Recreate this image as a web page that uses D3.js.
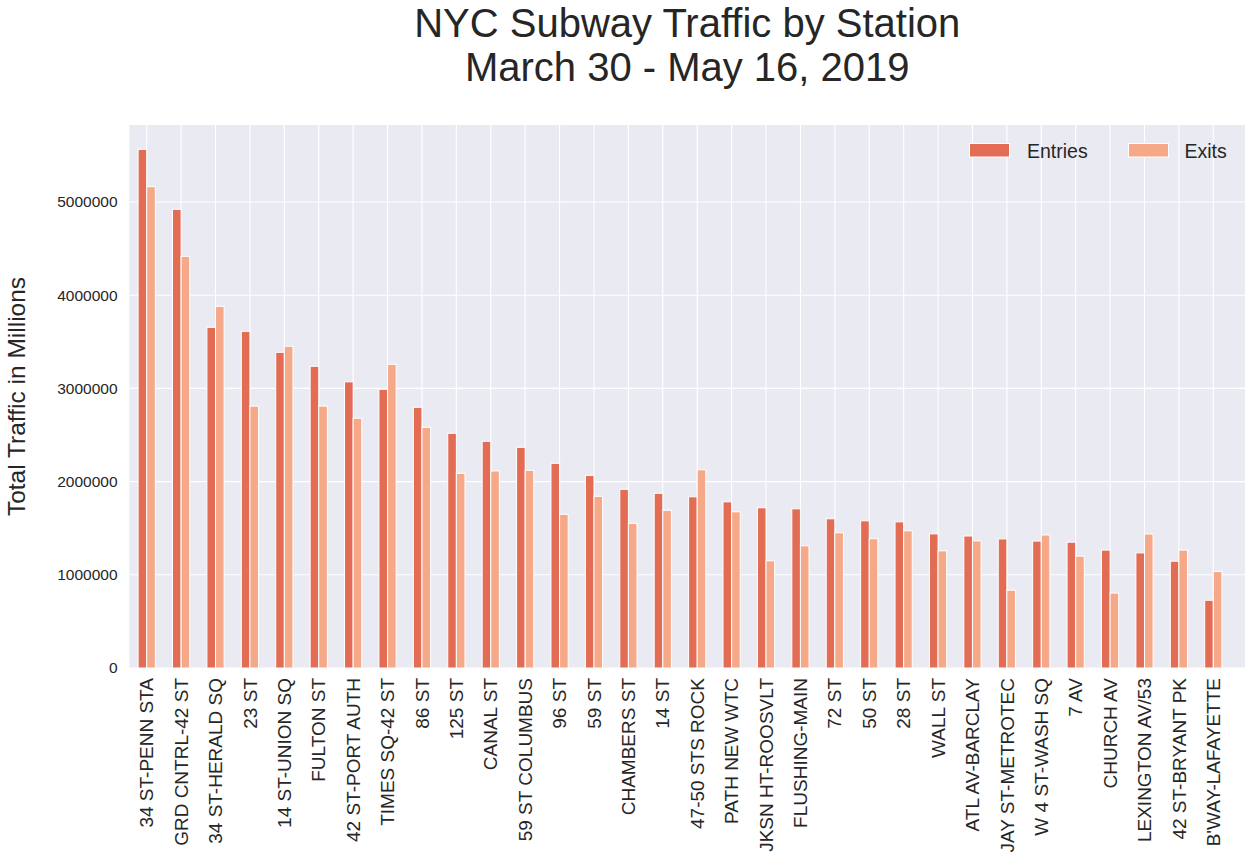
<!DOCTYPE html>
<html>
<head>
<meta charset="utf-8">
<script src="https://cdn.jsdelivr.net/npm/d3@7"></script>
<style>
  html, body { margin: 0; padding: 0; background: #ffffff; }
  svg { display: block; font-family: "Liberation Sans", Arial, sans-serif; }
</style>
</head>
<body>
<svg id="chart" width="1252" height="852"></svg>
<script>
const stations = [
  "34 ST-PENN STA", "GRD CNTRL-42 ST", "34 ST-HERALD SQ", "23 ST", "14 ST-UNION SQ",
  "FULTON ST", "42 ST-PORT AUTH", "TIMES SQ-42 ST", "86 ST", "125 ST", "CANAL ST",
  "59 ST COLUMBUS", "96 ST", "59 ST", "CHAMBERS ST", "14 ST", "47-50 STS ROCK",
  "PATH NEW WTC", "JKSN HT-ROOSVLT", "FLUSHING-MAIN", "72 ST", "50 ST", "28 ST",
  "WALL ST", "ATL AV-BARCLAY", "JAY ST-METROTEC", "W 4 ST-WASH SQ", "7 AV",
  "CHURCH AV", "LEXINGTON AV/53", "42 ST-BRYANT PK", "B'WAY-LAFAYETTE"
];
const entries = [
  5565000, 4921000, 3655000, 3612000, 3387000, 3237000, 3070000, 2990000,
  2797000, 2518000, 2432000, 2368000, 2196000, 2067000, 1917000, 1874000,
  1837000, 1783000, 1719000, 1708000, 1601000, 1579000, 1568000, 1439000,
  1416000, 1385000, 1362000, 1350000, 1265000, 1235000, 1146000, 727000
];
const exits = [
  5164000, 4417000, 3880000, 2810000, 3452000, 2810000, 2680000, 3258000,
  2582000, 2089000, 2114000, 2121000, 1649000, 1842000, 1552000, 1692000,
  2127000, 1676000, 1150000, 1311000, 1451000, 1387000, 1472000, 1257000,
  1364000, 835000, 1427000, 1200000, 804000, 1438000, 1265000, 1035000
];
const yTicks = [0, 1000000, 2000000, 3000000, 4000000, 5000000];
const seriesNames = ["Entries", "Exits"];
const seriesColors = ["#E36C55", "#F6A988"];
const titleLines = ["NYC Subway Traffic by Station", "March 30 - May 16, 2019"];
const yLabel = "Total Traffic in Millions";

const svg = d3.select("#chart");
const plot = { left: 129.5, right: 1245, top: 125, bottom: 668 };
const textColor = "#262626";

const x = d3.scaleBand().domain(stations).range([plot.left, 1230.5]).paddingInner(0).paddingOuter(0);
const y = d3.scaleLinear().domain([0, 5826000]).range([plot.bottom, plot.top]);
const barW = x.bandwidth() * 0.25;
const cx = s => x(s) + x.bandwidth() / 2;

// background
svg.append("rect")
  .attr("x", plot.left).attr("y", plot.top)
  .attr("width", plot.right - plot.left).attr("height", plot.bottom - plot.top)
  .attr("fill", "#EAEAF2");

// grid lines
const grid = svg.append("g");
grid.selectAll("line.h").data(yTicks).join("line")
  .attr("x1", plot.left).attr("x2", plot.right)
  .attr("y1", d => y(d)).attr("y2", d => y(d))
  .attr("stroke", "#ffffff").attr("stroke-width", 1.1);
grid.selectAll("line.v").data(stations).join("line")
  .attr("x1", d => cx(d)).attr("x2", d => cx(d))
  .attr("y1", plot.top).attr("y2", plot.bottom)
  .attr("stroke", "#ffffff").attr("stroke-width", 1.1);

// bars
const data = stations.map((s, i) => ({ s, vals: [entries[i], exits[i]] }));
const barsG = svg.append("g");
seriesNames.forEach((name, k) => {
  barsG.selectAll("rect.s" + k).data(data).join("rect")
    .attr("x", d => cx(d.s) - barW + k * barW)
    .attr("y", d => y(d.vals[k]))
    .attr("width", barW)
    .attr("height", d => y(0) - y(d.vals[k]))
    .attr("fill", seriesColors[k])
    .attr("stroke", "#ffffff")
    .attr("stroke-width", 1);
});

// y axis
const yAxis = d3.axisLeft(y).tickValues(yTicks).tickSize(0).tickPadding(12).tickFormat(d3.format("d"));
const yG = svg.append("g").attr("transform", `translate(${plot.left},0)`).call(yAxis);
yG.select(".domain").remove();
yG.selectAll("text").attr("font-size", 15.5).attr("fill", textColor)
  .attr("font-family", "Liberation Sans, Arial, sans-serif");

// x axis
const xAxis = d3.axisBottom(x).tickSize(0).tickPadding(0);
const xG = svg.append("g").attr("transform", `translate(0,${plot.bottom})`).call(xAxis);
xG.select(".domain").remove();
xG.selectAll("text")
  .attr("font-size", 19).attr("fill", textColor)
  .attr("font-family", "Liberation Sans, Arial, sans-serif")
  .attr("text-anchor", "end")
  .attr("dy", "0.35em")
  .attr("transform", "translate(0,10) rotate(-90)")
  .attr("x", 0).attr("y", 0);

// y label
svg.append("text")
  .attr("transform", `translate(25,${(plot.top + plot.bottom) / 2}) rotate(-90)`)
  .attr("text-anchor", "middle")
  .attr("font-size", 24.5).attr("fill", textColor)
  .text(yLabel);

// title
svg.selectAll("text.title").data(titleLines).join("text")
  .attr("class", "title")
  .attr("x", (plot.left + plot.right) / 2)
  .attr("y", (d, i) => 37 + i * 43.5)
  .attr("text-anchor", "middle")
  .attr("font-size", 40).attr("fill", textColor)
  .text(d => d);

// legend
const legendPos = [{ px: 969.5, tx: 1027 }, { px: 1128.5, tx: 1184.5 }];
const lg = svg.append("g");
seriesNames.forEach((name, k) => {
  lg.append("rect")
    .attr("x", legendPos[k].px).attr("y", 143.5)
    .attr("width", 40).attr("height", 13.5)
    .attr("fill", seriesColors[k]).attr("stroke", "#ffffff").attr("stroke-width", 1);
  lg.append("text")
    .attr("x", legendPos[k].tx).attr("y", 157.5)
    .attr("font-size", 19.5).attr("fill", textColor)
    .text(name);
});
</script>
</body>
</html>
